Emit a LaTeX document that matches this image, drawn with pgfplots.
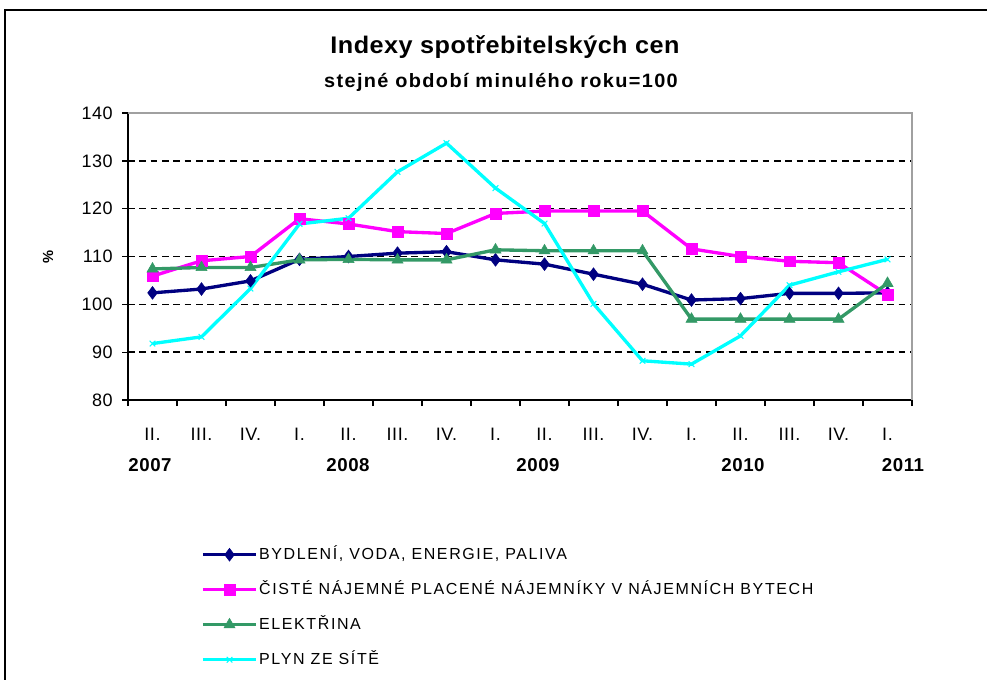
\documentclass[border=0pt]{standalone}
\usepackage{pgfplots}
\pgfplotsset{compat=1.18}
\usepackage{fontspec}
\setmainfont{Liberation Sans}
\newfontfamily\titlefont[LetterSpace=2,FakeStretch=1.05]{Liberation Sans}
\newfontfamily\subfont[LetterSpace=7,FakeStretch=1.03]{Liberation Sans}
\newfontfamily\tickfont[LetterSpace=3]{Liberation Sans}
\newfontfamily\legfont[LetterSpace=10]{Liberation Sans}
\definecolor{cBlue}{RGB}{0,0,128}
\definecolor{cMag}{RGB}{255,0,255}
\definecolor{cGreen}{RGB}{51,153,102}
\definecolor{cCyan}{RGB}{0,255,255}
\definecolor{cBorder}{RGB}{160,160,160}
\begin{document}
\begin{tikzpicture}[x=0.75pt,y=0.75pt]
\useasboundingbox (0,0) rectangle (987,679);
\fill[white] (0,0) rectangle (987,679);
\draw[line width=1.5pt] (4.5,-10) -- (4.5,668.5) -- (995,668.5);
\node[font=\titlefont\fontsize{18}{20}\selectfont\bfseries] at (505,632) {Indexy spotřebitelských cen};
\node[font=\subfont\fontsize{14.5}{16}\selectfont\bfseries] at (501,597) {stejné období minulého roku=100};
\begin{axis}[
  at={(96pt,209.25pt)}, anchor=south west, scale only axis,
  width=588pt, height=215.25pt,
  xmin=0, xmax=16, ymin=80, ymax=140,
  axis x line*=bottom, axis y line*=left,
  axis line style={-, black, line width=1pt},
  ytick={90,100,...,130}, extra y ticks={80,140}, extra y tick style={grid=none},
  ymajorgrids, major grid style={black, dash pattern=on 5pt off 3.5pt, line width=1.2pt},
  xtick={0,1,...,16}, x tick label as interval,
  xticklabels={II.,III.,IV.,I.,II.,III.,IV.,I.,II.,III.,IV.,I.,II.,III.,IV.,I.},
  tick align=outside, major tick length=4.5pt,
  tick style={black, line width=1pt},
  xticklabel style={font=\tickfont\fontsize{13.5}{15}\selectfont, yshift=-13pt},
  yticklabel style={font=\tickfont\fontsize{13.5}{15}\selectfont, xshift=-3.5pt},
  /pgf/number format/assume math mode=true,
  ylabel={\%}, ylabel style={font=\bfseries\fontsize{11}{12}\selectfont, at={(axis description cs:-0.102,0.5)}, anchor=center},
  clip=false,
  legend style={at={(axis description cs:0.093,-0.508)}, anchor=north west, draw=none, fill=none,
    inner sep=0pt, font=\legfont\fontsize{12}{13}\selectfont, row sep=13.25pt,
    nodes={inner sep=1pt, text height=9pt, text depth=2pt}},
  legend cell align=left,
  legend image code/.code={\draw[mark repeat=2,mark phase=2,#1] plot coordinates {(0pt,0pt) (20pt,0pt) (40pt,0pt)};},
]
\addplot[cBlue, line width=2.5pt, mark=diamond*, mark size=4.8pt, mark options={solid,line width=0.4pt}]
 coordinates {(0.5,102.4)(1.5,103.2)(2.5,104.9)(3.5,109.4)(4.5,110.0)(5.5,110.7)(6.5,111.0)(7.5,109.3)
 (8.5,108.4)(9.5,106.3)(10.5,104.2)(11.5,100.9)(12.5,101.2)(13.5,102.3)(14.5,102.3)(15.5,102.4)};
\addlegendentry{BYDLENÍ, VODA, ENERGIE, PALIVA}
\addplot[cMag, line width=2.5pt, mark=square*, mark size=4pt, mark options={solid,line width=0.4pt}]
 coordinates {(0.5,105.9)(1.5,109.1)(2.5,110.0)(3.5,117.9)(4.5,116.8)(5.5,115.2)(6.5,114.8)(7.5,119.0)
 (8.5,119.5)(9.5,119.5)(10.5,119.5)(11.5,111.6)(12.5,110.0)(13.5,109.0)(14.5,108.7)(15.5,102.0)};
\addlegendentry{ČISTÉ NÁJEMNÉ PLACENÉ NÁJEMNÍKY V NÁJEMNÍCH BYTECH}
\addplot[cGreen, line width=2.5pt, mark=triangle*, mark size=4.8pt, mark options={solid,line width=0.4pt}]
 coordinates {(0.5,107.4)(1.5,107.7)(2.5,107.7)(3.5,109.3)(4.5,109.4)(5.5,109.3)(6.5,109.3)(7.5,111.4)
 (8.5,111.2)(9.5,111.2)(10.5,111.2)(11.5,96.9)(12.5,96.9)(13.5,96.9)(14.5,96.9)(15.5,104.4)};
\addlegendentry{ELEKTŘINA}
\addplot[cCyan, line width=2.5pt, mark=x, mark size=3pt, mark options={solid,line width=0.8pt}]
 coordinates {(0.5,91.8)(1.5,93.2)(2.5,103.3)(3.5,116.8)(4.5,118.0)(5.5,127.7)(6.5,133.7)(7.5,124.3)
 (8.5,116.9)(9.5,100.1)(10.5,88.2)(11.5,87.5)(12.5,93.4)(13.5,104.0)(14.5,106.8)(15.5,109.4)};
\addlegendentry{PLYN ZE SÍTĚ}
\draw[cBorder, line width=1.2pt] (rel axis cs:0,1) -- (rel axis cs:1,1) -- (rel axis cs:1,0);
\end{axis}
\begin{scope}[font=\tickfont\fontsize{14}{16}\selectfont\bfseries]
\node at (150,214) {2007};
\node at (348,214) {2008};
\node at (538,214) {2009};
\node at (743,214) {2010};
\node at (903,214) {2011};
\end{scope}
\end{tikzpicture}
\end{document}
